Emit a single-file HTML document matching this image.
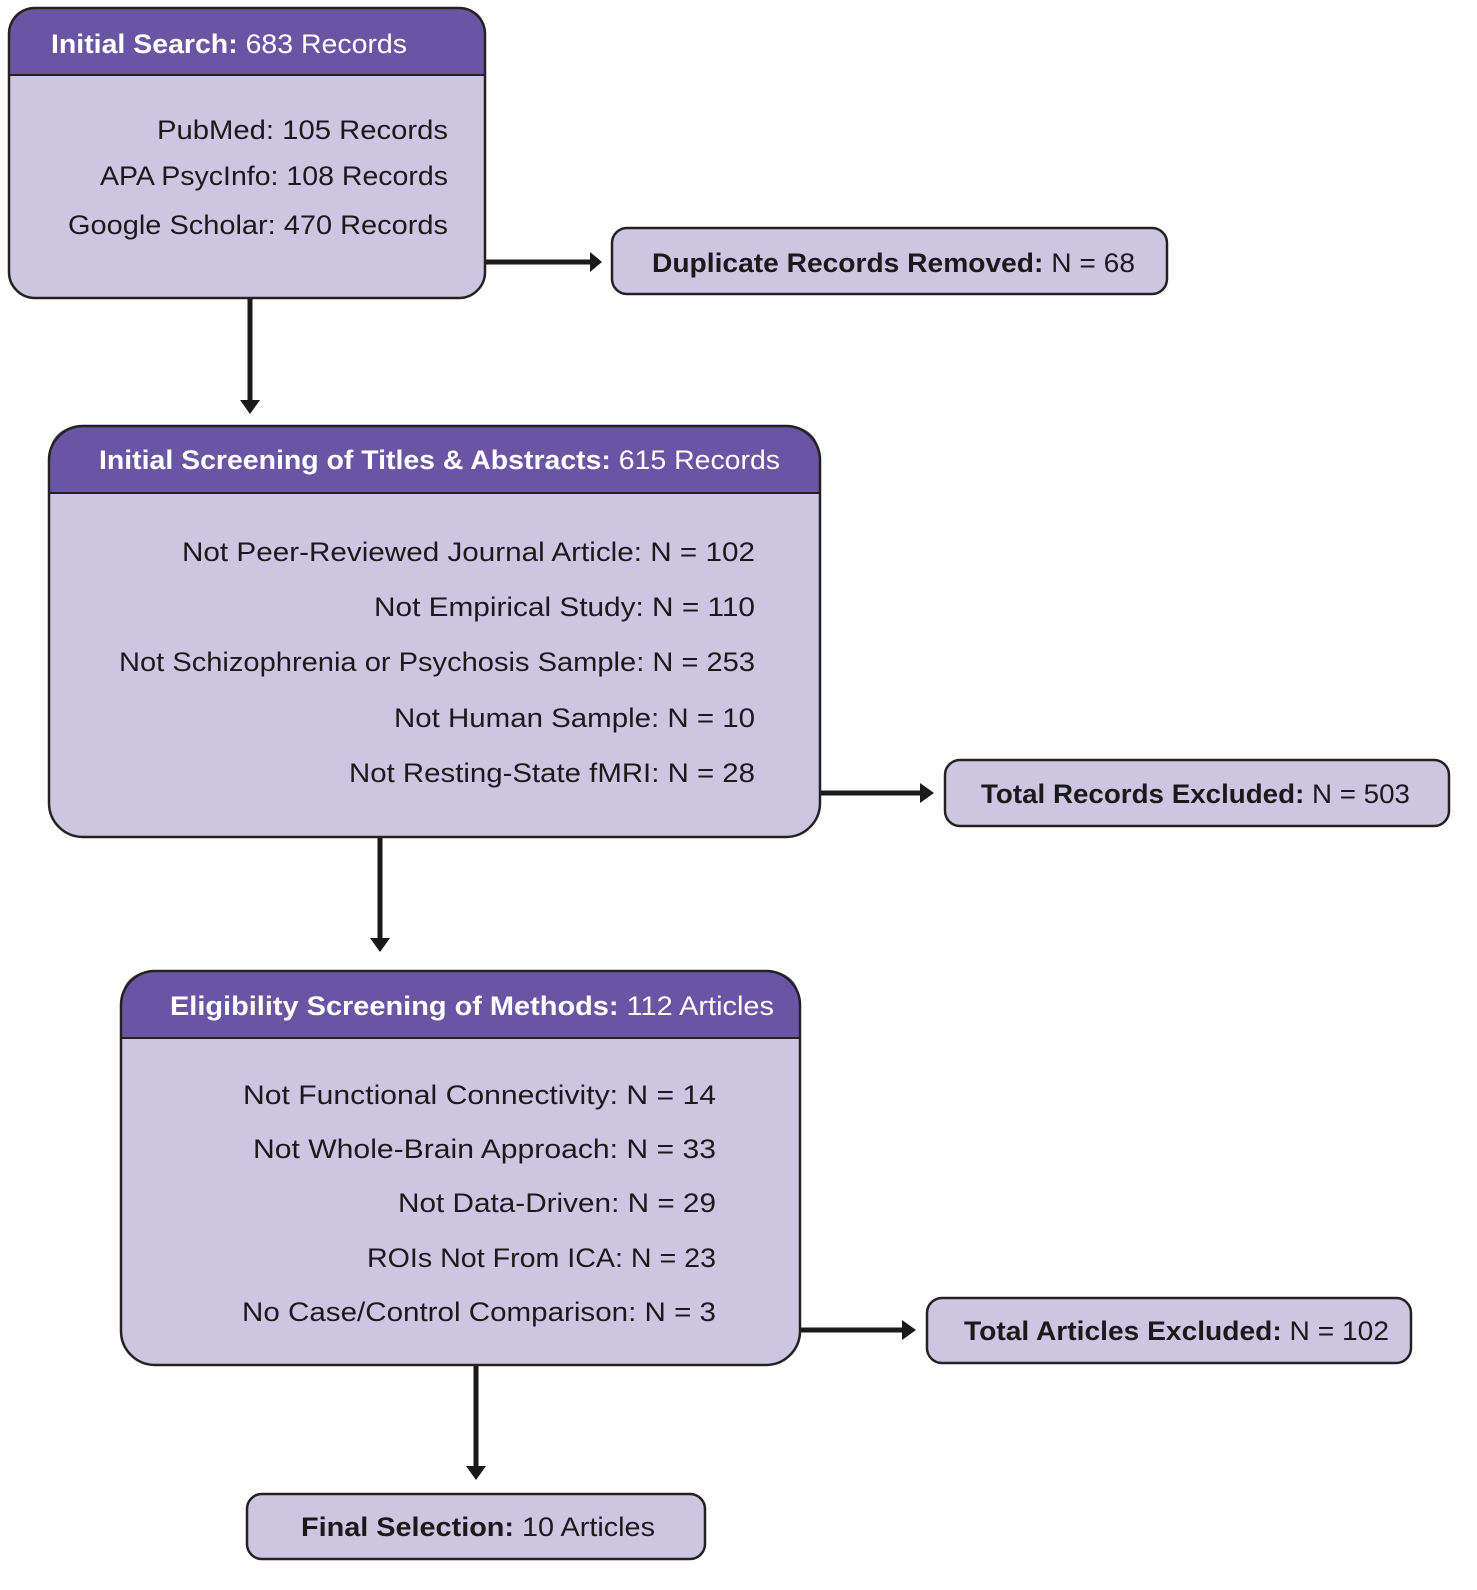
<!DOCTYPE html>
<html><head><meta charset="utf-8"><style>
html,body{margin:0;padding:0;background:#fff;}
svg{display:block;}
text{font-family:"Liberation Sans",sans-serif;font-size:27px;fill:#1a1a1a;}
.h{fill:#fff;}
.b{font-weight:bold;}
</style></head><body>
<svg width="1477" height="1590" viewBox="0 0 1477 1590" xmlns="http://www.w3.org/2000/svg">
<defs>
<marker id="ah" markerWidth="10" markerHeight="10" refX="2" refY="5" orient="auto" markerUnits="userSpaceOnUse">
<path d="M0,0 L10,5 L0,10 Z" fill="#1a1a1a"/></marker>
</defs>
<g stroke="#1a1a1a" stroke-width="5" fill="none">
<line x1="485" y1="262" x2="590" y2="262"/>
<path d="M590,252 L602,262 L590,272 Z" fill="#1a1a1a" stroke="none"/>
<line x1="250" y1="298" x2="250" y2="402"/>
<path d="M240,400 L250,414 L260,400 Z" fill="#1a1a1a" stroke="none"/>
<line x1="380" y1="838" x2="380" y2="940"/>
<path d="M370,938 L380,952 L390,938 Z" fill="#1a1a1a" stroke="none"/>
<line x1="820" y1="793" x2="922" y2="793"/>
<path d="M920,783 L934,793 L920,803 Z" fill="#1a1a1a" stroke="none"/>
<line x1="800" y1="1330" x2="904" y2="1330"/>
<path d="M902,1320 L916,1330 L902,1340 Z" fill="#1a1a1a" stroke="none"/>
<line x1="476" y1="1366" x2="476" y2="1468"/>
<path d="M466,1466 L476,1480 L486,1466 Z" fill="#1a1a1a" stroke="none"/>
</g>

<!-- Box 1 -->
<rect x="9" y="8" width="476" height="290" rx="26" fill="#cdc6e3"/>
<path d="M9,75 V34 Q9,8 35,8 H459 Q485,8 485,34 V75 Z" fill="#6a55a4"/>
<line x1="9" y1="75" x2="485" y2="75" stroke="#222" stroke-width="2"/>
<rect x="9" y="8" width="476" height="290" rx="26" fill="none" stroke="#222" stroke-width="2.5"/>
<text class="h" x="51" y="53" textLength="356" lengthAdjust="spacingAndGlyphs"><tspan class="b h">Initial Search:</tspan> 683 Records</text>
<text x="448" y="139" text-anchor="end" textLength="291" lengthAdjust="spacingAndGlyphs">PubMed: 105 Records</text>
<text x="448" y="185" text-anchor="end" textLength="348" lengthAdjust="spacingAndGlyphs">APA PsycInfo: 108 Records</text>
<text x="448" y="234" text-anchor="end" textLength="380" lengthAdjust="spacingAndGlyphs">Google Scholar: 470 Records</text>

<!-- Duplicate -->
<rect x="612" y="228" width="555" height="66" rx="15" fill="#cdc6e3" stroke="#222" stroke-width="2.5"/>
<text x="652" y="272" textLength="483" lengthAdjust="spacingAndGlyphs"><tspan class="b">Duplicate Records Removed:</tspan> N = 68</text>

<!-- Box 2 -->
<rect x="49" y="426" width="771" height="411" rx="34" fill="#cdc6e3"/>
<path d="M49,493 V460 Q49,426 83,426 H786 Q820,426 820,460 V493 Z" fill="#6a55a4"/>
<line x1="49" y1="493" x2="820" y2="493" stroke="#222" stroke-width="2"/>
<rect x="49" y="426" width="771" height="411" rx="34" fill="none" stroke="#222" stroke-width="2.5"/>
<text class="h" x="99" y="469" textLength="681" lengthAdjust="spacingAndGlyphs"><tspan class="b h">Initial Screening of Titles &amp; Abstracts:</tspan> 615 Records</text>
<text x="755" y="561" text-anchor="end" textLength="573" lengthAdjust="spacingAndGlyphs">Not Peer-Reviewed Journal Article: N = 102</text>
<text x="755" y="616" text-anchor="end" textLength="381" lengthAdjust="spacingAndGlyphs">Not Empirical Study: N = 110</text>
<text x="755" y="671" text-anchor="end" textLength="636" lengthAdjust="spacingAndGlyphs">Not Schizophrenia or Psychosis Sample: N = 253</text>
<text x="755" y="727" text-anchor="end" textLength="361" lengthAdjust="spacingAndGlyphs">Not Human Sample: N = 10</text>
<text x="755" y="782" text-anchor="end" textLength="406" lengthAdjust="spacingAndGlyphs">Not Resting-State fMRI: N = 28</text>

<!-- Total records excluded -->
<rect x="945" y="760" width="504" height="66" rx="15" fill="#cdc6e3" stroke="#222" stroke-width="2.5"/>
<text x="981" y="803" textLength="429" lengthAdjust="spacingAndGlyphs"><tspan class="b">Total Records Excluded:</tspan> N = 503</text>

<!-- Box 3 -->
<rect x="121" y="971" width="679" height="394" rx="34" fill="#cdc6e3"/>
<path d="M121,1038 V1005 Q121,971 155,971 H766 Q800,971 800,1005 V1038 Z" fill="#6a55a4"/>
<line x1="121" y1="1038" x2="800" y2="1038" stroke="#222" stroke-width="2"/>
<rect x="121" y="971" width="679" height="394" rx="34" fill="none" stroke="#222" stroke-width="2.5"/>
<text class="h" x="170" y="1015" textLength="604" lengthAdjust="spacingAndGlyphs"><tspan class="b h">Eligibility Screening of Methods:</tspan> 112 Articles</text>
<text x="716" y="1104" text-anchor="end" textLength="473" lengthAdjust="spacingAndGlyphs">Not Functional Connectivity: N = 14</text>
<text x="716" y="1158" text-anchor="end" textLength="463" lengthAdjust="spacingAndGlyphs">Not Whole-Brain Approach: N = 33</text>
<text x="716" y="1212" text-anchor="end" textLength="318" lengthAdjust="spacingAndGlyphs">Not Data-Driven: N = 29</text>
<text x="716" y="1267" text-anchor="end" textLength="349" lengthAdjust="spacingAndGlyphs">ROIs Not From ICA: N = 23</text>
<text x="716" y="1321" text-anchor="end" textLength="474" lengthAdjust="spacingAndGlyphs">No Case/Control Comparison: N = 3</text>

<!-- Total articles excluded -->
<rect x="927" y="1298" width="484" height="65" rx="15" fill="#cdc6e3" stroke="#222" stroke-width="2.5"/>
<text x="964" y="1340" textLength="425" lengthAdjust="spacingAndGlyphs"><tspan class="b">Total Articles Excluded:</tspan> N = 102</text>

<!-- Final -->
<rect x="247" y="1494" width="458" height="65" rx="15" fill="#cdc6e3" stroke="#222" stroke-width="2.5"/>
<text x="301" y="1536" textLength="354" lengthAdjust="spacingAndGlyphs"><tspan class="b">Final Selection:</tspan> 10 Articles</text>
</svg>
</body></html>
